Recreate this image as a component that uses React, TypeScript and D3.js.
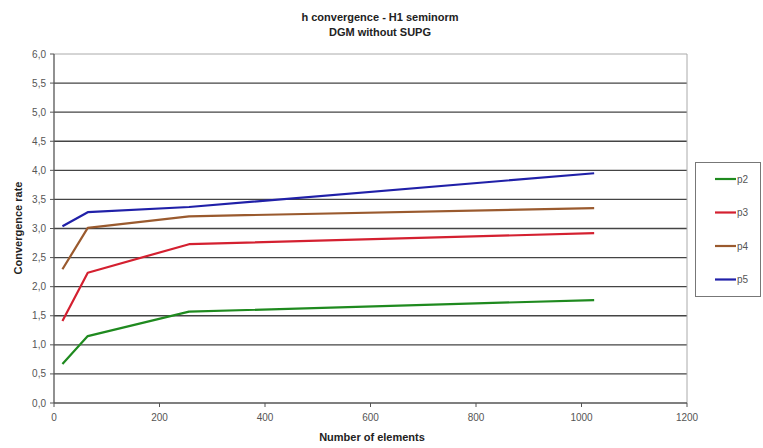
import React from "react";
import * as d3 from "d3";

const xValues = [16, 64, 256, 1024];
const seriesNames = ["p2", "p3", "p4", "p5"];
const p2 = [0.67, 1.15, 1.57, 1.77];
const p3 = [1.41, 2.24, 2.73, 2.92];
const p4 = [2.3, 3.01, 3.21, 3.35];
const p5 = [3.04, 3.28, 3.37, 3.95];
const seriesValues = [p2, p3, p4, p5];
const colors = ["#1f8a1f", "#d42030", "#9a5a2e", "#2020a8"];
const yTicks = d3.range(0, 6.01, 0.5);
const xTicks = d3.range(0, 1201, 200);

const W = 763, H = 448;
const left = 54, right = 687, top = 54, bottom = 403;

export default function App() {
  const x = d3.scaleLinear().domain([0, 1200]).range([left, right]);
  const y = d3.scaleLinear().domain([0, 6]).range([bottom, top]);
  const line = d3.line<number>().x((_, i) => x(xValues[i])).y((d) => y(d));
  const fmt = (v: number) => v.toFixed(1).replace(".", ",");
  const font = "Arial, 'Liberation Sans', sans-serif";
  return (
    <svg width={W} height={H} style={{ position: "absolute", left: 0, top: 0, background: "#fff" }} fontFamily={font}>
      <rect x={0} y={0} width={W} height={H} fill="#fff" />
      <text x={380} y={21} textAnchor="middle" fontSize={11} fontWeight="bold" fill="#222">h convergence - H1 seminorm</text>
      <text x={380} y={36} textAnchor="middle" fontSize={11} fontWeight="bold" fill="#222">DGM without SUPG</text>
      {/* gridlines */}
      {yTicks.filter((t) => t > 0 && t < 6).map((t) => (
        <line key={t} x1={left} x2={right} y1={y(t)} y2={y(t)} stroke="#444" strokeWidth={1.3} />
      ))}
      {/* plot border top/right */}
      <line x1={left} x2={right} y1={y(6)} y2={y(6)} stroke="#aaa" strokeWidth={1} />
      <line x1={right} x2={right} y1={y(6)} y2={y(0)} stroke="#aaa" strokeWidth={1} />
      {/* axes */}
      <line x1={left} x2={left} y1={y(6)} y2={y(0)} stroke="#555" strokeWidth={1.3} />
      <line x1={left} x2={right} y1={y(0)} y2={y(0)} stroke="#555" strokeWidth={1.3} />
      {yTicks.map((t) => (
        <g key={"y" + t}>
          <line x1={left - 4} x2={left} y1={y(t)} y2={y(t)} stroke="#555" />
          <text x={left - 8} y={y(t) + 3.5} textAnchor="end" fontSize={10} fill="#555">{fmt(t)}</text>
        </g>
      ))}
      {xTicks.map((t) => (
        <g key={"x" + t}>
          <line x1={x(t)} x2={x(t)} y1={bottom} y2={bottom + 4} stroke="#555" />
          <text x={x(t)} y={bottom + 18} textAnchor="middle" fontSize={10} fill="#555">{t}</text>
        </g>
      ))}
      <text x={372} y={441} textAnchor="middle" fontSize={11} fontWeight="bold" fill="#222">Number of elements</text>
      <text transform={`translate(22,228) rotate(-90)`} textAnchor="middle" fontSize={11} fontWeight="bold" fill="#222">Convergence rate</text>
      {seriesValues.map((s, i) => (
        <path key={seriesNames[i]} d={line(s) || ""} fill="none" stroke={colors[i]} strokeWidth={2.2} strokeLinejoin="round" />
      ))}
      {/* legend */}
      <rect x={695.5} y={162.5} width={65} height={134} fill="#fff" stroke="#777" strokeWidth={1} />
      {seriesNames.map((n, i) => {
        const ly = 179 + i * 33.5;
        return (
          <g key={"l" + n}>
            <line x1={715} x2={736} y1={ly} y2={ly} stroke={colors[i]} strokeWidth={2.2} />
            <text x={737} y={ly + 3.5} fontSize={10} fill="#555">{n}</text>
          </g>
        );
      })}
    </svg>
  );
}
